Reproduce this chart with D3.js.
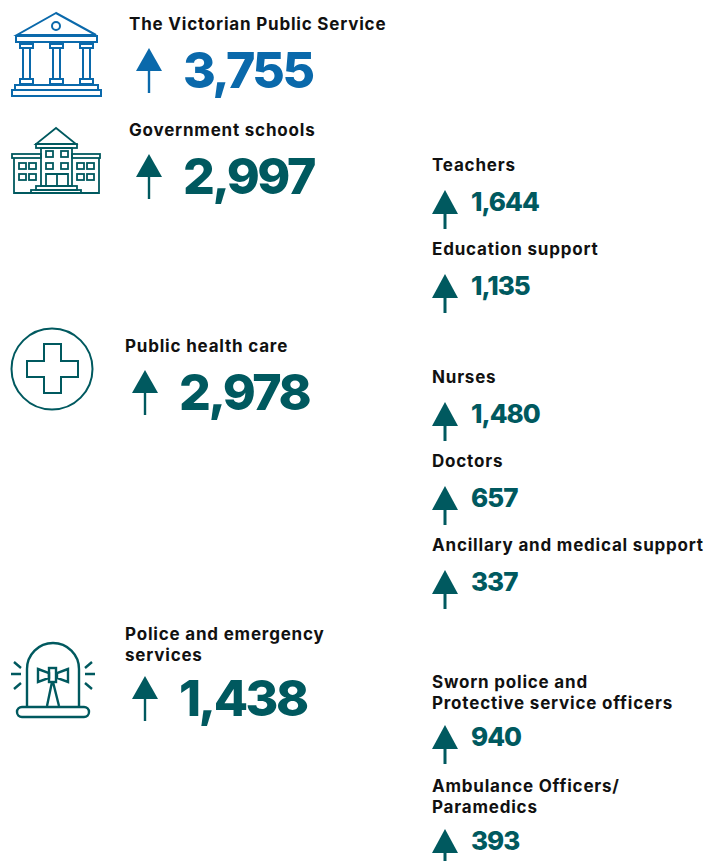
<!DOCTYPE html>
<html>
<head>
<meta charset="utf-8">
<script src="https://cdn.jsdelivr.net/npm/d3@7"></script>
<style>
  html, body { margin: 0; padding: 0; background: #fff; }
  text { font-family: Inter, "Noto Sans", sans-serif; }
</style>
</head>
<body>
<div id="chart"></div>
<script>
// main sectors
const sectors = ["The Victorian Public Service", "Government schools", "Public health care", "Police and emergency services"];
const sectorLines = [["The Victorian Public Service"], ["Government schools"], ["Public health care"], ["Police and emergency", "services"]];
const sectorValues = [3755, 2997, 2978, 1438];

// breakdown of the sectors
const roles = ["Teachers", "Education support", "Nurses", "Doctors", "Ancillary and medical support", "Sworn police", "Ambulance"];
const roleLines = [["Teachers"], ["Education support"], ["Nurses"], ["Doctors"], ["Ancillary and medical support"],
  ["Sworn police and", "Protective service officers"], ["Ambulance Officers/", "Paramedics"]];
const roleValues = [1644, 1135, 1480, 657, 337, 940, 393];

const blue = "#0a69ab", teal = "#00595f", ink = "#111111";
const width = 709, height = 861;

const svg = d3.select("#chart").append("svg")
  .attr("width", width).attr("height", height)
  .style("display", "block");

// baseline of first label line for each row
const sectorY = d3.scaleOrdinal().domain(sectors).range([30, 136, 352, 640]);
const sectorX = d3.scaleOrdinal().domain(sectors).range([129, 129, 125, 125]);
const roleY = d3.scaleOrdinal().domain(roles).range([171, 255, 383, 467, 551, 688, 792]);
const fmt = d3.format(",");
const arrow = d3.line();

function drawRow(g, lines, value, x, y, colour, o) {
  const label = g.append("text")
    .attr("x", x).attr("y", y)
    .attr("font-size", 17).attr("font-weight", 700).attr("fill", ink)
    .attr("letter-spacing", o.labelSpacing);
  label.selectAll("tspan").data(lines).enter().append("tspan")
    .attr("x", x)
    .attr("dy", (d, i) => i ? 21 : 0)
    .text(d => d);

  // two line labels sit a little tighter on the arrow
  const top = y + (lines.length - 1) * 18;
  const cx = x + o.arrowDx;
  g.append("path")
    .attr("d", arrow([[cx, top + o.tip], [cx + 13, top + o.head], [cx - 13, top + o.head]]) + "Z")
    .attr("fill", colour);
  g.append("line")
    .attr("x1", cx).attr("x2", cx)
    .attr("y1", top + o.head).attr("y2", top + o.tail)
    .attr("stroke", colour).attr("stroke-width", o.stem);
  g.append("text")
    .attr("x", x + o.numDx).attr("y", top + o.num)
    .attr("font-size", o.numSize).attr("font-weight", 800).attr("fill", colour)
    .attr("letter-spacing", o.numSpacing)
    .text(fmt(value));
}

sectors.forEach((s, i) => {
  drawRow(svg.append("g"), sectorLines[i], sectorValues[i], sectorX(s), sectorY(s), i === 0 ? blue : teal,
    { arrowDx: 20, tip: 18, head: 41, tail: 63, stem: 2.4, numDx: 54, num: 58, numSize: 50, numSpacing: -2.5, labelSpacing: 0.8 });
});

roles.forEach((r, i) => {
  drawRow(svg.append("g"), roleLines[i], roleValues[i], 432, roleY(r), teal,
    { arrowDx: 13, tip: 19, head: 43, tail: 58, stem: 3, numDx: 39, num: 40, numSize: 26, numSpacing: -1, labelSpacing: 0.8 });
});

// icons
const bank = svg.append("g").attr("fill", "none").attr("stroke", blue).attr("stroke-width", 2);
bank.append("path").attr("d", "M56 13L17 35H96Z");
bank.append("circle").attr("cx", 56).attr("cy", 26).attr("r", 4);
bank.append("rect").attr("x", 16).attr("y", 36).attr("width", 81).attr("height", 6);
[20, 50, 80].forEach(x => {
  bank.append("rect").attr("x", x).attr("y", 44).attr("width", 13).attr("height", 4);
  bank.append("rect").attr("x", x + 3).attr("y", 48).attr("width", 7).attr("height", 31);
  bank.append("rect").attr("x", x).attr("y", 79).attr("width", 13).attr("height", 5);
});
bank.append("rect").attr("x", 15).attr("y", 85).attr("width", 83).attr("height", 5);
bank.append("rect").attr("x", 12).attr("y", 90).attr("width", 89).attr("height", 6);

const school = svg.append("g").attr("fill", "none").attr("stroke", teal).attr("stroke-width", 1.8);
school.append("path").attr("d", "M56 128L36 144H76Z");
school.append("rect").attr("x", 36).attr("y", 144).attr("width", 41).attr("height", 4);
school.append("rect").attr("x", 41).attr("y", 148).attr("width", 31).attr("height", 38);
school.append("rect").attr("x", 12).attr("y", 154).attr("width", 29).attr("height", 4);
school.append("rect").attr("x", 72).attr("y", 154).attr("width", 28).attr("height", 4);
school.append("path").attr("d", "M14 158V193H99V158");
[[46, 151], [61, 151], [46, 163], [61, 163], [19, 163], [29, 163], [19, 174], [29, 174], [77, 163], [87, 163], [77, 174], [87, 174]]
  .forEach(p => school.append("rect").attr("x", p[0]).attr("y", p[1]).attr("width", 7).attr("height", 6));
school.append("path").attr("d", "M46 186V174H68V186M57 174V186");
school.append("rect").attr("x", 36).attr("y", 186).attr("width", 41).attr("height", 4);
school.append("rect").attr("x", 31).attr("y", 190).attr("width", 50).attr("height", 3);

const health = svg.append("g").attr("fill", "none").attr("stroke", teal).attr("stroke-width", 2);
health.append("circle").attr("cx", 52).attr("cy", 369).attr("r", 40.5);
health.append("path").attr("d", "M44 344H61V361H78V377H61V393H44V377H27V361H44Z");

const siren = svg.append("g").attr("fill", "none").attr("stroke", teal).attr("stroke-width", 2.4);
siren.append("rect").attr("x", 17).attr("y", 707).attr("width", 72).attr("height", 10).attr("rx", 5);
siren.append("path").attr("d", "M27 707V669A26 26 0 0 1 79 669V707");
siren.append("path").attr("d", "M38 669L49 673V678L38 682ZM68 669L57 673V678L68 682Z");
siren.append("rect").attr("x", 49).attr("y", 668).attr("width", 7).attr("height", 14);
siren.append("path").attr("d", "M52 682L47 706M53 682L59 706");
siren.append("path").attr("d", "M14 662L21 668M11 674H21M14 689L21 683M92 662L85 668M85 674H95M92 689L85 683");
</script>
</body>
</html>
